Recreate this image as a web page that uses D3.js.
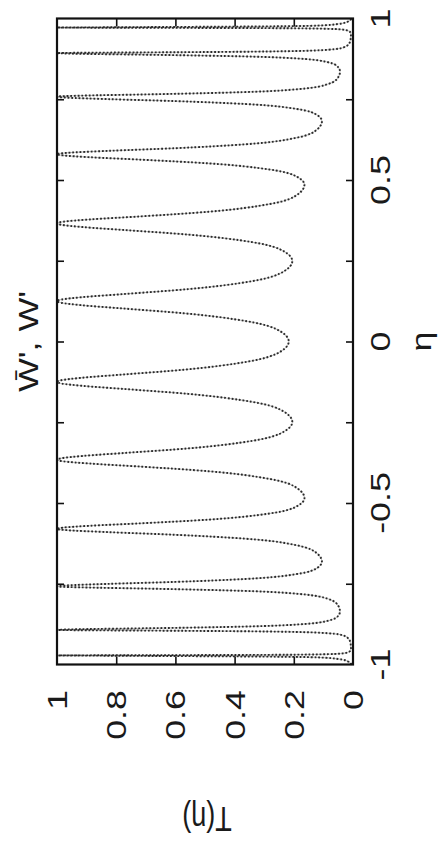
<!DOCTYPE html>
<html>
<head>
<meta charset="utf-8">
<script src="https://cdn.jsdelivr.net/npm/d3@7"></script>
<style>
  html, body { margin: 0; padding: 0; background: #fff; }
  svg { display: block; }
  text { font-family: "Liberation Sans", Arial, Helvetica, sans-serif; fill: #1a1a1a; }
</style>
</head>
<body>
<svg id="chart" width="440" height="853"></svg>
<script>
// ---- data: eta (x of the original plot) and T(eta) ----
const eta = [
  -1.0, -0.990, -0.983, -0.978, -0.9755, -0.9737, -0.9723, -0.972,
  -0.9717, -0.9711, -0.9698, -0.968, -0.9654, -0.961, -0.9555, -0.950,
  -0.9358, -0.9215, -0.9101, -0.9033, -0.8987, -0.8953, -0.8939, -0.893,
  -0.8921, -0.8907, -0.8873, -0.8827, -0.8759, -0.8645, -0.8503, -0.836,
  -0.8165, -0.797, -0.7814, -0.772, -0.7658, -0.7611, -0.7592, -0.758,
  -0.755, -0.7504, -0.7443, -0.7352, -0.720, -0.701, -0.682,
  -0.6565, -0.631, -0.6106, -0.5984, -0.5902, -0.5841, -0.580,
  -0.5762, -0.5705, -0.5629, -0.5515, -0.5325, -0.5088, -0.485,
  -0.4553, -0.4255, -0.4017, -0.3874, -0.3779, -0.3708, -0.366,
  -0.3613, -0.3543, -0.3449, -0.3309, -0.3075, -0.2783, -0.249,
  -0.218, -0.187, -0.1622, -0.1473, -0.1374, -0.130, -0.125,
  -0.120, -0.1125, -0.1025, -0.0875, -0.0625, -0.0313,
  0,
  0.0313, 0.0625, 0.0875, 0.1025, 0.1125, 0.120,
  0.125, 0.130, 0.1374, 0.1473, 0.1622, 0.187, 0.218,
  0.249, 0.2783, 0.3075, 0.3309, 0.3449, 0.3543, 0.3613,
  0.366, 0.3708, 0.3779, 0.3874, 0.4017, 0.4255, 0.4553,
  0.485, 0.5088, 0.5325, 0.5515, 0.5629, 0.5705, 0.5762,
  0.580, 0.5841, 0.5902, 0.5984, 0.6106, 0.631, 0.6565,
  0.682, 0.701, 0.720, 0.7352, 0.7443, 0.7504, 0.755,
  0.758, 0.7592, 0.7611, 0.7658, 0.772, 0.7814, 0.797, 0.8165,
  0.836, 0.8503, 0.8645, 0.8759, 0.8827, 0.8873, 0.8907, 0.8921,
  0.893, 0.8939, 0.8953, 0.8987, 0.9033, 0.9101, 0.9215, 0.9358,
  0.950, 0.9555, 0.961, 0.9654, 0.968, 0.9698, 0.9711, 0.9717,
  0.972, 0.9723, 0.9737, 0.9755, 0.978, 0.983, 0.990, 1.0
];
const tEta = [
  0.005, 0.018, 0.05, 0.12, 0.30, 0.64, 0.93, 1,
  0.927, 0.641, 0.224, 0.083, 0.033, 0.014, 0.008, 0.007,
  0.008, 0.014, 0.033, 0.083, 0.224, 0.641, 0.927, 1,
  0.988, 0.921, 0.653, 0.372, 0.183, 0.084, 0.051, 0.044,
  0.051, 0.084, 0.183, 0.372, 0.653, 0.921, 0.988, 1,
  0.967, 0.827, 0.601, 0.363, 0.190, 0.121, 0.105,
  0.121, 0.190, 0.363, 0.601, 0.827, 0.967, 1,
  0.980, 0.889, 0.716, 0.488, 0.282, 0.187, 0.164,
  0.187, 0.282, 0.488, 0.716, 0.889, 0.980, 1,
  0.985, 0.913, 0.768, 0.556, 0.340, 0.232, 0.205,
  0.232, 0.340, 0.556, 0.768, 0.913, 0.985, 1,
  0.986, 0.919, 0.781, 0.573, 0.357, 0.245,
  0.217,
  0.245, 0.357, 0.573, 0.781, 0.919, 0.986,
  1, 0.985, 0.913, 0.768, 0.556, 0.340, 0.232,
  0.205, 0.232, 0.340, 0.556, 0.768, 0.913, 0.985,
  1, 0.980, 0.889, 0.716, 0.488, 0.282, 0.187,
  0.164, 0.187, 0.282, 0.488, 0.716, 0.889, 0.980,
  1, 0.967, 0.827, 0.601, 0.363, 0.190, 0.121,
  0.105, 0.121, 0.190, 0.363, 0.601, 0.827, 0.967,
  1, 0.988, 0.921, 0.653, 0.372, 0.183, 0.084, 0.051,
  0.044, 0.051, 0.084, 0.183, 0.372, 0.653, 0.921, 0.988,
  1, 0.927, 0.641, 0.224, 0.083, 0.033, 0.014, 0.008,
  0.007, 0.008, 0.014, 0.033, 0.083, 0.224, 0.641, 0.927,
  1, 0.93, 0.64, 0.30, 0.12, 0.05, 0.018, 0.005
];
const etaTickValues = [-0.75, -0.5, -0.25, 0, 0.25, 0.5, 0.75];
const etaLabelValues = [-1, -0.5, 0, 0.5, 1];
const etaLabels = ["-1", "-0.5", "0", "0.5", "1"];
const tTickValues = [0.2, 0.4, 0.6, 0.8];
const tLabelValues = [0, 0.2, 0.4, 0.6, 0.8, 1];
const tLabels = ["0", "0.2", "0.4", "0.6", "0.8", "1"];
const titleText = "W\u0304', W'";
const xLabelText = "\u03b7";
const yLabelText = "T(\u03b7)";

// ---- layout (the figure is rotated 90 degrees counter-clockwise) ----
const box = { left: 57, right: 353, top: 18.5, bottom: 664.5 };
const stretch = 1.28;   // picture is stretched along the page's vertical
const fs = 28;

const svg = d3.select("#chart");
const yEta = d3.scaleLinear().domain([-1, 1]).range([box.bottom, box.top]);
const xT = d3.scaleLinear().domain([0, 1]).range([box.right, box.left]);

const pts = eta.map((e, i) => ({ e, t: tEta[i] }));

const line = d3.line()
  .x(d => xT(d.t))
  .y(d => yEta(d.e))
  .curve(d3.curveMonotoneY);

svg.append("clipPath").attr("id", "clip")
  .append("rect")
  .attr("x", box.left).attr("y", box.top)
  .attr("width", box.right - box.left).attr("height", box.bottom - box.top);

const g = svg.append("g").attr("clip-path", "url(#clip)");
g.append("path").datum(pts)
  .attr("d", line)
  .attr("fill", "none")
  .attr("stroke", "#9a9a9a")
  .attr("stroke-width", 0.7);
g.append("path").datum(pts)
  .attr("d", line)
  .attr("fill", "none")
  .attr("stroke", "#2a2a2a")
  .attr("stroke-width", 1.9)
  .attr("stroke-dasharray", "1.8 1.9");

// ---- ticks (inward, on all four sides) ----
function strip(sel) { sel.select(".domain").remove(); sel.selectAll("line").attr("stroke", "#111").attr("stroke-width", 1.6); }
svg.append("g").attr("transform", `translate(0,${box.top})`)
  .call(d3.axisTop(xT).tickValues(tTickValues).tickSize(-8).tickFormat(""))
  .call(strip);
svg.append("g").attr("transform", `translate(0,${box.bottom})`)
  .call(d3.axisBottom(xT).tickValues(tTickValues).tickSize(-8).tickFormat(""))
  .call(strip);
svg.append("g").attr("transform", `translate(${box.left},0)`)
  .call(d3.axisLeft(yEta).tickValues(etaTickValues).tickSize(-7).tickFormat(""))
  .call(strip);
svg.append("g").attr("transform", `translate(${box.right},0)`)
  .call(d3.axisRight(yEta).tickValues(etaTickValues).tickSize(-7).tickFormat(""))
  .call(strip);

// ---- frame ----
svg.append("rect")
  .attr("x", box.left).attr("y", box.top)
  .attr("width", box.right - box.left).attr("height", box.bottom - box.top)
  .attr("fill", "none").attr("stroke", "#111").attr("stroke-width", 2.2);

// ---- eta tick labels (right side, reading upward) ----
svg.append("g").selectAll("text").data(etaLabelValues).join("text")
  .attr("transform", d => `translate(390,${yEta(d)}) rotate(-90) scale(${stretch},1)`)
  .attr("text-anchor", "middle")
  .attr("font-size", fs)
  .text((d, i) => etaLabels[i]);

// ---- T tick labels (below, reading upward, ending near the frame) ----
svg.append("g").selectAll("text").data(tLabelValues).join("text")
  .attr("transform", d => `translate(${xT(d) + 10},690) rotate(-90) scale(${stretch},1)`)
  .attr("text-anchor", "end")
  .attr("font-size", fs)
  .text((d, i) => tLabels[i]);

// ---- axis labels ----
svg.append("text")
  .attr("transform", `translate(431,${yEta(0)}) rotate(-90) scale(${stretch},1)`)
  .attr("text-anchor", "middle")
  .attr("font-size", fs)
  .text(xLabelText);

svg.append("text")
  .attr("transform", `translate(${(box.left + box.right) / 2 + 2},807) rotate(180) scale(1,${stretch})`)
  .attr("text-anchor", "middle")
  .attr("font-size", 27)
  .text(yLabelText);

// ---- title (left of the frame, reading upward) ----
svg.append("text")
  .attr("transform", `translate(38,${yEta(0)}) rotate(-90) scale(${stretch},1)`)
  .attr("text-anchor", "middle")
  .attr("font-size", fs)
  .text(titleText);
</script>
</body>
</html>
